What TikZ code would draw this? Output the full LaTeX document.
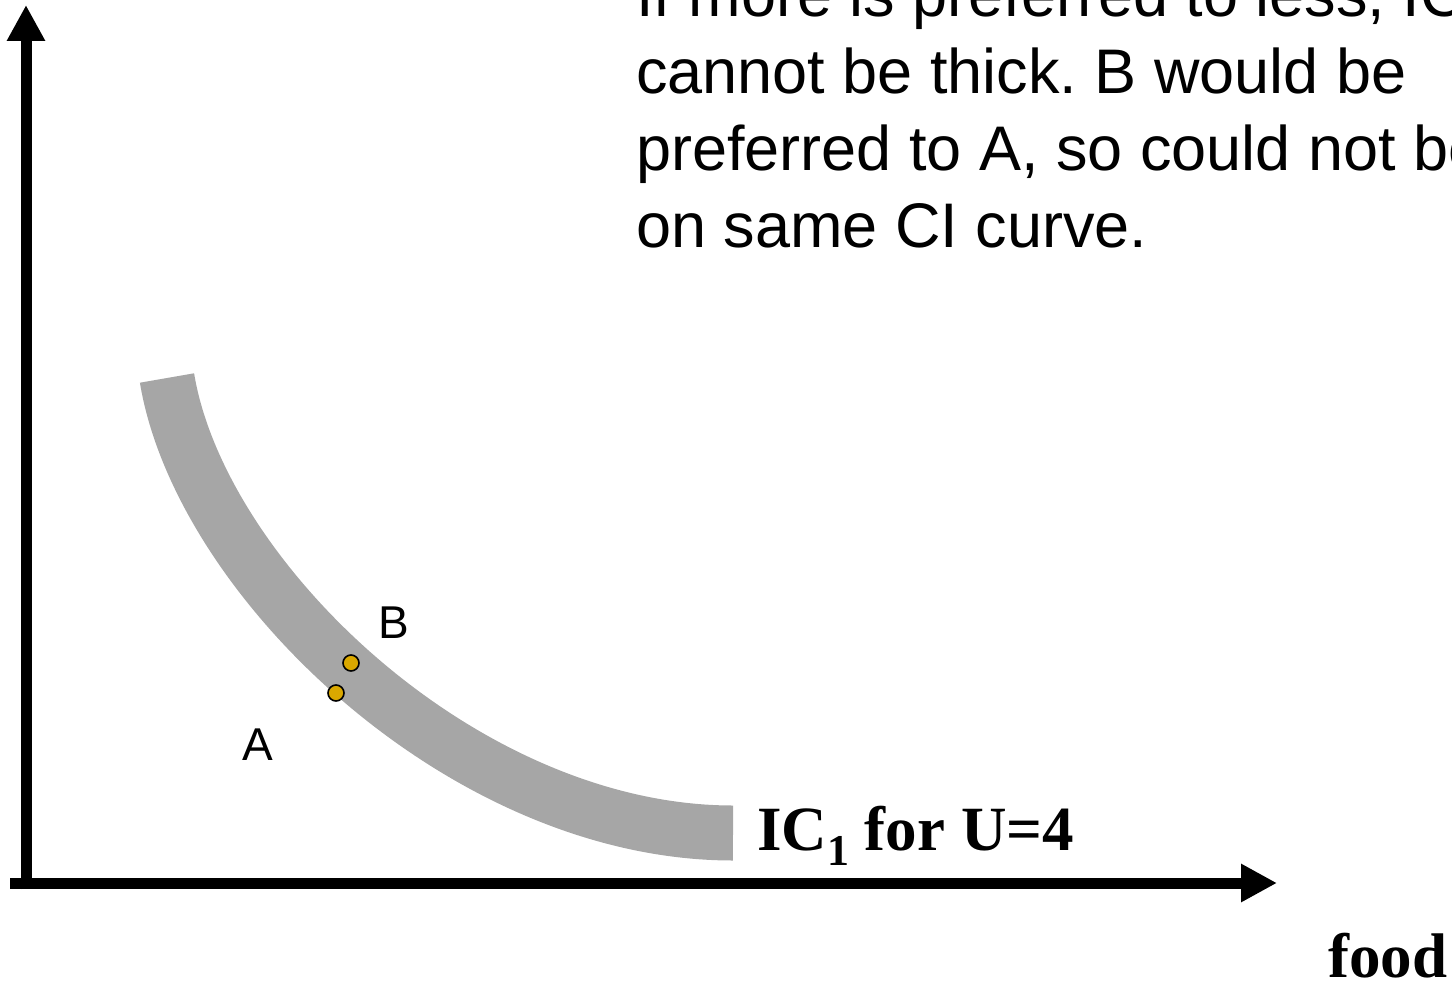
\documentclass[tikz,border=0pt]{standalone}
\usepackage{fontspec}
\setmainfont{Liberation Sans}
\newfontfamily\serifbf{Liberation Serif}[BoldFont={* Bold}]
\usetikzlibrary{arrows.meta}
\frenchspacing

\definecolor{bandgray}{HTML}{A6A6A6}
\definecolor{dotgold}{RGB}{218,168,0}

\begin{document}
\begin{tikzpicture}[
    x=1pt, y=-1pt,
    axis/.style={line width=11pt, -{Triangle[length=36pt, width=36pt]}},
    band/.style={line width=55pt, draw=bandgray},
    bundle/.style={circle, draw, line width=1.6pt, fill=dotgold, minimum size=16pt, inner sep=0pt},
    ptlabel/.style={font=\fontsize{46}{46}\selectfont, inner sep=0pt, anchor=base west},
    caption/.style={font=\serifbf\bfseries\fontsize{63}{63}\selectfont, inner sep=0pt, anchor=base west},
    note/.style={font=\fontsize{63}{77}\selectfont, align=left, inner sep=0pt, anchor=base west},
]
\useasboundingbox (0,0) rectangle (1452,982);
\clip (0,0) rectangle (1452,982);

% =====================  AXES  =====================
\coordinate (origin) at (26,889);
\coordinate (ytip)   at (26,5);
\coordinate (xstart) at (10,883);
\coordinate (xtip)   at (1277,883);

\draw[axis] (origin) -- (ytip);
\draw[axis] (xstart) -- (xtip);

% =====================  THICK IC  =====================
\coordinate (icstart) at (167,378);
\coordinate (icend)   at (733,833);
\draw[band] (icstart) .. controls (200,578) and (463,833) .. (icend);

\node[caption] (iclabel) at (757,850)
  {IC\raisebox{-15pt}{\fontsize{44}{44}\selectfont 1} for U=4};
\node[caption] (food) at (1328,977) {food};

% the two bundles
\node[bundle] (dotB) at (351,663) {};
\node[bundle] (dotA) at (336,693) {};
\node[ptlabel] (labB) at (378,638) {B};
\node[ptlabel] (labA) at (242,760) {A};

% =====================  NOTE  =====================
% base anchor sits on the last line
\node[note] (remark) at (636,247)
  {If more is preferred to less, IC\\
   cannot be thick. B would be\\
   preferred to A, so could not be\\
   on same CI curve.};

\end{tikzpicture}
\end{document}
